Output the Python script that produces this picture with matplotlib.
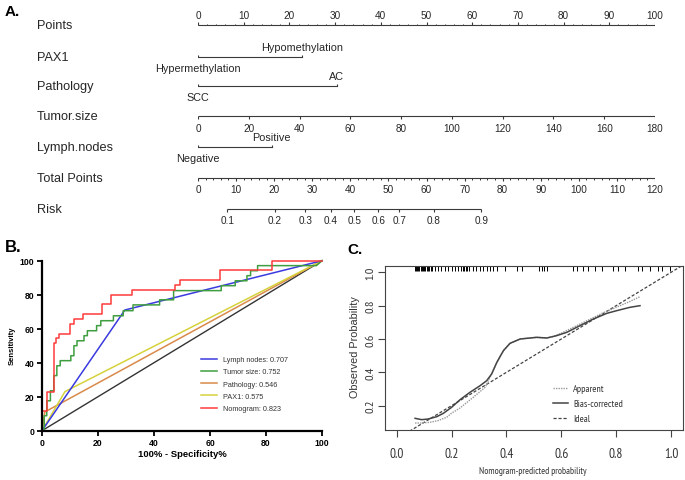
import numpy as np
import matplotlib
matplotlib.use("Agg")
import matplotlib.pyplot as plt
from matplotlib import font_manager
from matplotlib.lines import Line2D

W, H = 685, 481

# A. nomogram scales (values read in "Points" units, 0-100)
point_ticks = [0, 10, 20, 30, 40, 50, 60, 70, 80, 90, 100]
pax1_levels = ["Hypermethylation", "Hypomethylation"]
pax1_points = [0, 22.7]
pathology_levels = ["SCC", "AC"]
pathology_points = [0, 30.4]
tumor_ticks = [0, 20, 40, 60, 80, 100, 120, 140, 160, 180]
tumor_max_points = 100
lymph_levels = ["Negative", "Positive"]
lymph_points = [0, 16.1]
total_ticks = [0, 10, 20, 30, 40, 50, 60, 70, 80, 90, 100, 110, 120]
risk_ticks = [0.1, 0.2, 0.3, 0.4, 0.5, 0.6, 0.7, 0.8, 0.9]
risk_total_points = [7.7, 20.2, 28.2, 34.8, 41.0, 47.3, 52.8, 61.9, 74.4]

# B. ROC curves (100% - specificity, sensitivity)
lymph_fpr = [0, 29.6, 100]
lymph_tpr = [0, 71.0, 100]
tumor_fpr = [0, 0.8, 0.8, 1.7, 1.7, 3.0, 3.0, 4.2, 4.2, 5.3, 5.3, 6.5, 6.5, 10.3, 10.3,
             11.4, 11.4, 12.5, 12.5, 15.0, 15.0, 16.2, 16.2, 19.5, 19.5, 21.0, 21.0,
             25.5, 25.5, 29.0, 29.0, 32.5, 32.5, 42.0, 42.0, 47.0, 47.0, 64.0, 64.0,
             69.0, 69.0, 73.2, 73.2, 74.5, 74.5, 77.0, 77.0, 98.0, 100]
tumor_tpr = [0, 0, 8.8, 8.8, 17.6, 17.6, 23.5, 23.5, 32.4, 32.4, 38.2, 38.2, 41.2, 41.2, 44.1,
             44.1, 50.0, 50.0, 52.9, 52.9, 55.9, 55.9, 58.8, 58.8, 61.8, 61.8, 64.7,
             64.7, 67.6, 67.6, 70.6, 70.6, 74.0, 74.0, 77.0, 77.0, 82.4, 82.4, 85.3,
             85.3, 88.2, 88.2, 91.2, 91.2, 94.1, 94.1, 97.1, 97.1, 100]
path_fpr = [0, 1.0, 100]
path_tpr = [0, 11.0, 100]
pax1_fpr = [0, 8.2, 100]
pax1_tpr = [0, 23.0, 100]
nomo_fpr = [0, 0, 1.7, 1.7, 4.2, 4.2, 5.0, 5.0, 6.1, 6.1, 10.0, 10.0, 11.5, 11.5, 14.8,
            14.8, 21.3, 21.3, 24.6, 24.6, 32.3, 32.3, 47.5, 47.5, 49.3, 49.3, 63.4,
            63.4, 82.1, 82.1, 100]
nomo_tpr = [0, 11.4, 11.4, 22.9, 22.9, 51.4, 51.4, 54.3, 54.3, 57.1, 57.1, 62.9, 62.9,
            65.7, 65.7, 68.6, 68.6, 74.3, 74.3, 80.0, 80.0, 82.9, 82.9, 85.7, 85.7,
            88.6, 88.6, 94.3, 94.3, 100, 100]
roc_names = ["Lymph nodes", "Tumor size", "Pathology", "PAX1", "Nomogram"]
roc_auc = [0.707, 0.752, 0.546, 0.575, 0.823]

# C. calibration
app_x = [0.067, 0.090, 0.120, 0.150, 0.182, 0.200, 0.230, 0.279, 0.322, 0.346, 0.365,
         0.389, 0.413, 0.450, 0.486, 0.510, 0.547, 0.570, 0.600, 0.650, 0.700, 0.750,
         0.800, 0.850, 0.887]
app_y = [0.096, 0.096, 0.100, 0.110, 0.130, 0.155, 0.185, 0.250, 0.310, 0.390, 0.460,
         0.530, 0.574, 0.600, 0.606, 0.610, 0.606, 0.615, 0.635, 0.675, 0.715, 0.755,
         0.790, 0.825, 0.854]
bias_x = [0.067, 0.091, 0.115, 0.146, 0.170, 0.200, 0.231, 0.267, 0.304, 0.328, 0.346,
          0.365, 0.389, 0.413, 0.450, 0.486, 0.510, 0.547, 0.583, 0.620, 0.668, 0.717,
          0.766, 0.802, 0.850, 0.887]
bias_y = [0.124, 0.116, 0.120, 0.134, 0.154, 0.190, 0.236, 0.280, 0.320, 0.350, 0.390,
          0.460, 0.530, 0.574, 0.600, 0.606, 0.610, 0.606, 0.620, 0.640, 0.680, 0.720,
          0.754, 0.770, 0.790, 0.800]
rug_x = [0.067, 0.071, 0.075, 0.079, 0.083, 0.087, 0.091, 0.095, 0.099, 0.104, 0.109,
         0.114, 0.119, 0.124, 0.128, 0.138, 0.150, 0.162, 0.175, 0.188, 0.200, 0.212,
         0.224, 0.236, 0.241, 0.246, 0.251, 0.255, 0.265, 0.279, 0.290, 0.304, 0.316,
         0.328, 0.340, 0.352, 0.365, 0.395, 0.437, 0.456, 0.520, 0.529, 0.537, 0.547,
         0.644, 0.659, 0.680, 0.699, 0.723, 0.747, 0.790, 0.808, 0.832, 0.881, 0.893,
         0.923, 0.954, 0.966, 0.996]

plt.rcParams["font.family"] = ["Liberation Sans", "DejaVu Sans"]
installed = {f.name for f in font_manager.fontManager.ttflist}
NARROW = "Liberation Sans"
for cand in ["Liberation Sans Narrow", "Arial Narrow", "PT Sans Narrow", "Archivo Narrow",
             "Roboto Condensed"]:
    if cand in installed:
        NARROW = cand
        break

fig = plt.figure(figsize=(W / 100, H / 100), dpi=100)


def px_axes(left, top, right, bottom):
    return fig.add_axes([left / W, 1 - bottom / H, (right - left) / W, (bottom - top) / H])


# ---------------- A. nomogram ----------------
TXT = "#262626"
LN = "#3a3a3a"
axA = px_axes(198, 0, 655, 232)
axA.set_xlim(0, 100)
axA.set_ylim(232, 0)
axA.axis("off")


def scale(y, pos, labels, up=False, dy=11, minor=None, tick=3):
    axA.plot([pos[0], pos[-1]], [y, y], color=LN, lw=0.8, solid_capstyle="butt")
    s = -1 if up else 1
    axA.vlines(pos, y, y + s * tick, color=LN, lw=0.8)
    if minor is not None:
        axA.vlines(minor, y, y + s * 1.5, color=LN, lw=0.7)
    for p, lab in zip(pos, labels):
        axA.text(p, y + (-dy if up else dy), lab, ha="center", va="center",
                 fontsize=7.2, color=TXT)


def levels(y, pos, labels):
    axA.plot(pos, [y, y], color=LN, lw=0.8)
    axA.vlines(pos, y, y - 2.5, color=LN, lw=0.8)
    axA.text(pos[0], y + 11, labels[0], ha="center", va="center", fontsize=7.8, color=TXT)
    axA.text(pos[1], y - 10, labels[1], ha="center", va="center", fontsize=7.8, color=TXT)


rows = {"Points": 26, "PAX1": 58, "Pathology": 87, "Tumor.size": 117,
        "Lymph.nodes": 148, "Total Points": 179, "Risk": 210}
for name, y in rows.items():
    axA.text(-35.2, y, name, ha="left", va="center", fontsize=9.2, color=TXT)

scale(rows["Points"], point_ticks, [str(t) for t in point_ticks], up=True, dy=10,
      minor=np.arange(0, 101, 2))
levels(rows["PAX1"], pax1_points, pax1_levels)
levels(rows["Pathology"], pathology_points, pathology_levels)
scale(rows["Tumor.size"], [t / tumor_ticks[-1] * tumor_max_points for t in tumor_ticks],
      [str(t) for t in tumor_ticks], dy=12)
levels(rows["Lymph.nodes"], lymph_points, lymph_levels)
scale(rows["Total Points"], [t / total_ticks[-1] * 100 for t in total_ticks],
      [str(t) for t in total_ticks], dy=11,
      minor=np.arange(0, 121, 2) / total_ticks[-1] * 100)
scale(rows["Risk"], [t / total_ticks[-1] * 100 for t in risk_total_points],
      [str(r) for r in risk_ticks], dy=11)

fig.text(5 / W, 1 - 12 / H, "A.", fontsize=11, fontweight="bold", va="center")

# ---------------- B. ROC ----------------
axB = px_axes(42, 261.7, 322, 431.7)
axB.plot([0, 100], [0, 100], color="#333333", lw=1.0, clip_on=False)
roc = [
    (path_fpr, path_tpr, "#d98a4a"),
    (pax1_fpr, pax1_tpr, "#d6d23c"),
    (lymph_fpr, lymph_tpr, "#3a3ae0"),
    (tumor_fpr, tumor_tpr, "#3f9e3f"),
    (nomo_fpr, nomo_tpr, "#ff3a3a"),
]
for fpr, tpr, c in roc:
    axB.plot(fpr, tpr, color=c, lw=1.1, clip_on=False)
axB.set_xlim(0, 100)
axB.set_ylim(0, 100)
axB.set_xticks([0, 20, 40, 60, 80, 100])
axB.set_yticks([0, 20, 40, 60, 80, 100])
for s in ["top", "right"]:
    axB.spines[s].set_visible(False)
for s in ["left", "bottom"]:
    axB.spines[s].set_linewidth(1.6)
axB.tick_params(length=3.5, width=1.3, labelsize=6.2, pad=2)
for lab in axB.get_xticklabels() + axB.get_yticklabels():
    lab.set_fontweight("bold")

order = [2, 3, 0, 1, 4]  # legend order: lymph, tumor, pathology, pax1, nomogram
handles = [Line2D([], [], color=roc[i][2], lw=1.1) for i in order]
labels = [f"{n}: {a:.3f}" for n, a in zip(roc_names, roc_auc)]
fig.legend(handles, labels, loc="upper left", bbox_to_anchor=(201 / W, 1 - 357 / H),
           frameon=False, fontsize=5.2, handlelength=2.2, handletextpad=0.8,
           labelspacing=0.72, borderpad=0, borderaxespad=0, labelcolor="#333333")

fig.text(182 / W, 1 - 455 / H, "100% - Specificity%", fontsize=6.8, fontweight="bold",
         ha="center", va="center")
fig.text(12 / W, 1 - 346 / H, "Sensitivity", fontsize=5.5, fontweight="bold",
         ha="center", va="center", rotation=90)
fig.text(5 / W, 1 - 248 / H, "B.", fontsize=12, fontweight="bold", va="center")

# ---------------- C. calibration ----------------
GR = "#444444"
axC = px_axes(385, 267, 683, 431)
axC.plot([0, 1.1], [0, 1.1], color=GR, lw=0.9, ls=(0, (2.5, 1.5)))
axC.plot(app_x, app_y, color="#9a9a9a", lw=1.0, ls=(0, (1, 0.8)))
axC.plot(bias_x, bias_y, color=GR, lw=1.1)
axC.vlines(rug_x, 1.008, 1.038, color="black", lw=0.7)
axC.set_xlim(-0.0427, 1.0437)
axC.set_ylim(0.054, 1.038)
axC.set_xticks([0.0, 0.2, 0.4, 0.6, 0.8, 1.0])
axC.set_yticks([0.2, 0.4, 0.6, 0.8, 1.0])
for s in axC.spines.values():
    s.set_linewidth(0.8)
    s.set_color(GR)
axC.tick_params(axis="x", length=5, width=0.8, color=GR, labelsize=9.5,
                labelcolor="#333333", pad=7)
axC.tick_params(axis="y", length=5, width=0.8, color=GR, labelsize=8.8,
                labelcolor="#333333", pad=2)
for lab in axC.get_xticklabels():
    lab.set_fontfamily(NARROW)
for lab in axC.get_yticklabels():
    lab.set_fontfamily(NARROW)
    lab.set_rotation(90)
    lab.set_verticalalignment("center")

cal_handles = [Line2D([], [], color="#9a9a9a", lw=1.0, ls=(0, (1, 0.8))),
               Line2D([], [], color=GR, lw=1.1),
               Line2D([], [], color=GR, lw=0.9, ls=(0, (2.5, 1.5)))]
fig.legend(cal_handles, ["Apparent", "Bias-corrected", "Ideal"], loc="upper left",
           bbox_to_anchor=(553 / W, 1 - 385 / H), frameon=False,
           prop={"family": NARROW, "size": 7.2}, handlelength=1.5, handletextpad=0.5,
           labelspacing=0.6, borderpad=0, borderaxespad=0, labelcolor="#333333")

fig.text(533 / W, 1 - 472 / H, "Nomogram-predicted probability", fontsize=6.8,
         family=NARROW, color="#333333", ha="center", va="center")
fig.text(355 / W, 1 - 347 / H, "Observed Probability", fontsize=7.8, color="#333333",
         ha="center", va="center", rotation=90)
fig.text(347 / W, 1 - 250 / H, "C.", fontsize=11, fontweight="bold", va="center")

fig.savefig("out.png", dpi=100)
